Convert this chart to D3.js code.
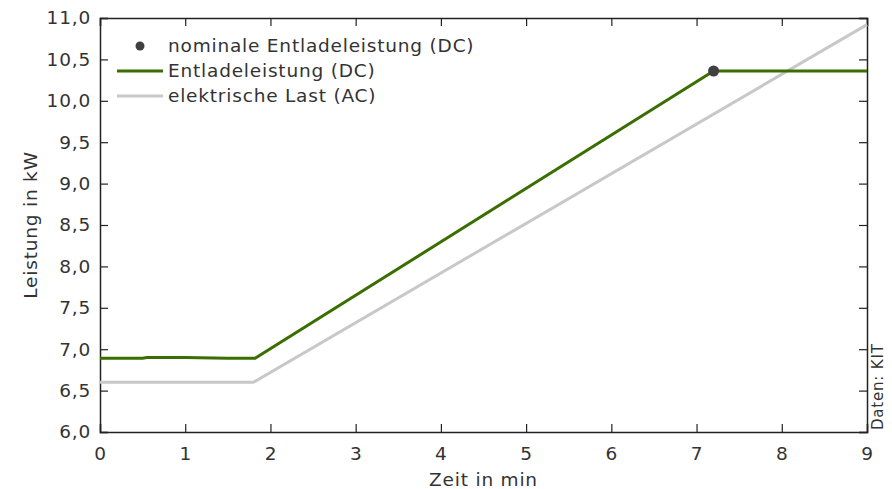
<!DOCTYPE html>
<html>
<head>
<meta charset="utf-8">
<script src="https://cdn.jsdelivr.net/npm/d3@7"></script>
<style>
body { margin: 0; background: #fff; }
text { font-family: "DejaVu Sans", Verdana, sans-serif; fill: #333; letter-spacing: 0.8px; }
</style>
</head>
<body>
<div id="vis-container"></div>
<script>
const width = 892,
    height = 489;

// Entladeleistung (DC)
var dcTime  = [0, 0.5, 0.55, 1.0, 1.5, 1.82, 7.2, 9];
var dcPower = [6.89, 6.89, 6.90, 6.90, 6.89, 6.89, 10.36, 10.36];

// elektrische Last (AC)
var acTime  = [0, 1.8, 9];
var acPower = [6.60, 6.60, 10.92];

// nominale Entladeleistung (DC)
var nomTime = [7.2];
var nomPower = [10.36];

var xTicks = [0, 1, 2, 3, 4, 5, 6, 7, 8, 9];
var yTicks = [6.0, 6.5, 7.0, 7.5, 8.0, 8.5, 9.0, 9.5, 10.0, 10.5, 11.0];

var margin = {left: 100, right: 25, top: 18, bottom: 57};

var svg = d3.select("#vis-container").append("svg")
    .attr("width", width)
    .attr("height", height);

var x = d3.scaleLinear().domain([0, 9]).range([margin.left, width - margin.right]);
var y = d3.scaleLinear().domain([6, 11]).range([height - margin.bottom, margin.top]);

var fmt = d3.format(".1f");
var comma = function(d) { return fmt(d).replace(".", ","); };

// axes, ticks pointing inward on all four sides
var xAxis = svg.append("g")
    .attr("transform", "translate(0," + y(6) + ")")
    .call(d3.axisBottom(x).tickValues(xTicks).tickSize(-8).tickPadding(15).tickFormat(d3.format("d")));
var xTop = svg.append("g")
    .attr("transform", "translate(0," + y(11) + ")")
    .call(d3.axisTop(x).tickValues(xTicks).tickSize(-8).tickFormat(""));
var yAxis = svg.append("g")
    .attr("transform", "translate(" + x(0) + ",0)")
    .call(d3.axisLeft(y).tickValues(yTicks).tickSize(-8).tickPadding(9).tickFormat(comma));
var yRight = svg.append("g")
    .attr("transform", "translate(" + x(9) + ",0)")
    .call(d3.axisRight(y).tickValues(yTicks).tickSize(-8).tickFormat(""));

[xAxis, xTop, yAxis, yRight].forEach(function(a) {
    a.select(".domain").attr("stroke", "#222").attr("stroke-width", 1.5);
    a.selectAll(".tick line").attr("stroke", "#222").attr("stroke-width", 1.2);
    a.selectAll("text").attr("font-size", 18.5).attr("fill", "#333")
        .style("font-family", "DejaVu Sans, Verdana, sans-serif");
});

var line = d3.line()
    .x(function(d) { return x(d[0]); })
    .y(function(d) { return y(d[1]); });

var acData = d3.zip(acTime, acPower);
var dcData = d3.zip(dcTime, dcPower);

svg.append("path")
    .datum(acData)
    .attr("d", line)
    .attr("fill", "none")
    .attr("stroke", "#c8c8c8")
    .attr("stroke-width", 3);

svg.append("path")
    .datum(dcData)
    .attr("d", line)
    .attr("fill", "none")
    .attr("stroke", "#3a6e00")
    .attr("stroke-width", 3);

svg.selectAll(".nom")
    .data(d3.zip(nomTime, nomPower))
    .enter().append("circle")
    .attr("class", "nom")
    .attr("cx", function(d) { return x(d[0]); })
    .attr("cy", function(d) { return y(d[1]); })
    .attr("r", 5.5)
    .attr("fill", "#404040");

// legend
var legend = svg.append("g");
legend.append("circle").attr("cx", 140).attr("cy", 46).attr("r", 4.5).attr("fill", "#404040");
legend.append("line").attr("x1", 117).attr("x2", 163).attr("y1", 71).attr("y2", 71)
    .attr("stroke", "#3a6e00").attr("stroke-width", 3);
legend.append("line").attr("x1", 117).attr("x2", 163).attr("y1", 96).attr("y2", 96)
    .attr("stroke", "#c8c8c8").attr("stroke-width", 3);
var legendLabels = ["nominale Entladeleistung (DC)", "Entladeleistung (DC)", "elektrische Last (AC)"];
legend.selectAll(".lt")
    .data(legendLabels)
    .enter().append("text")
    .attr("x", 168)
    .attr("y", function(d, i) { return 46 + i * 25; })
    .attr("dy", "0.35em")
    .attr("font-size", 18.5)
    .text(function(d) { return d; });

// axis titles
svg.append("text")
    .attr("x", (x(0) + x(9)) / 2)
    .attr("y", 486)
    .attr("text-anchor", "middle")
    .attr("font-size", 18.5)
    .text("Zeit in min");

svg.append("text")
    .attr("transform", "translate(37," + ((y(6) + y(11)) / 2) + ") rotate(-90)")
    .attr("text-anchor", "middle")
    .attr("font-size", 18.5)
    .text("Leistung in kW");

svg.append("text")
    .attr("transform", "translate(883," + (y(6) - 2) + ") rotate(-90)")
    .attr("text-anchor", "start")
    .attr("font-size", 15)
    .text("Daten: KIT");
</script>
</body>
</html>
